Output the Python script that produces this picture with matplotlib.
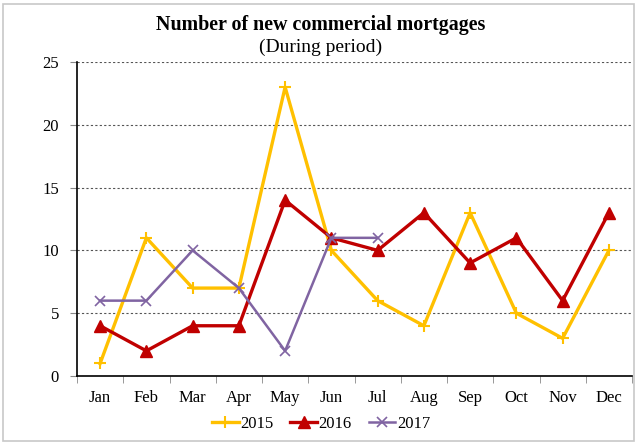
import matplotlib
matplotlib.use("Agg")
import matplotlib.pyplot as plt
from matplotlib.patches import Rectangle

plt.rcParams["font.family"] = ["Liberation Serif", "DejaVu Serif"]

months = ["Jan", "Feb", "Mar", "Apr", "May", "Jun",
          "Jul", "Aug", "Sep", "Oct", "Nov", "Dec"]
y2015 = [1, 11, 7, 7, 23, 10, 6, 4, 13, 5, 3, 10]
y2016 = [4, 2, 4, 4, 14, 11, 10, 13, 9, 11, 6, 13]
y2017 = [6, 6, 10, 7, 2, 11, 11]
yticks = [0, 5, 10, 15, 20, 25]

W, H = 642, 445
fig = plt.figure(figsize=(W / 100, H / 100), dpi=100)
ax = fig.add_axes([77 / W, 1 - 376 / H, (632 - 77) / W, (376 - 62) / H])

x = list(range(len(months)))
ax.plot(x, y2015, color="#FFC000", lw=2.4, marker="+", ms=9, mew=1.5, label="2015")
ax.plot(x, y2016, color="#C00000", lw=2.4, marker="^", ms=8, label="2016")
ax.plot(x[:len(y2017)], y2017, color="#8064A2", lw=1.8, marker="x", ms=7, mew=1.2, label="2017")

ax.set_xlim(-0.5, len(months) - 0.5)
ax.set_ylim(0, 25)
ax.set_yticks(yticks)
ax.set_xticks(x)
ax.set_xticklabels(months)
ax.set_xticks([i - 0.5 for i in range(len(months) + 1)], minor=True)
ax.tick_params(axis="x", which="major", length=0, labelsize=12, pad=10)
ax.tick_params(axis="x", which="minor", length=5, color="#888888")
ax.tick_params(axis="y", length=5, labelsize=12, color="#888888", pad=8)
ax.yaxis.grid(True, linestyle=(0, (2, 2)), color="#555555", lw=0.8)
ax.set_axisbelow(True)
for s in ["top", "right"]:
    ax.spines[s].set_visible(False)
for s in ["left", "bottom"]:
    ax.spines[s].set_color("black")
    ax.spines[s].set_linewidth(1.2)

fig.text(0.5, 1 - 25 / H, "Number of new commercial mortgages", ha="center", va="center",
         fontsize=14.4, fontweight="bold")
fig.text(0.5, 1 - 47 / H, "(During period)", ha="center", va="center", fontsize=14)

ax.legend(loc="center", bbox_to_anchor=(0.44, (376 - 424) / (376 - 62)), ncol=3,
          frameon=False, fontsize=12, handlelength=1.6, columnspacing=1.0, handletextpad=0.1)

fig.patches.append(Rectangle((3 / W, 4 / H), 631 / W, 437 / H, transform=fig.transFigure,
                             fill=False, edgecolor="#c8c8c8", lw=1.2))

fig.savefig("out.png", dpi=100)
